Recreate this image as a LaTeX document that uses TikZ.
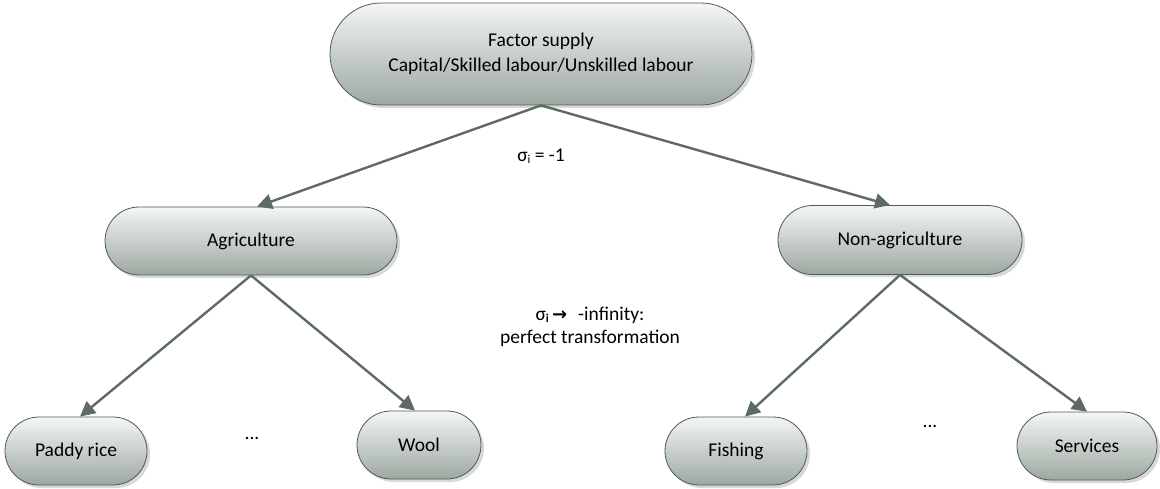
\documentclass[tikz,border=0pt]{standalone}
\usepackage{fontspec}
\setmainfont{Carlito}
\newfontfamily\dvfont{DejaVu Sans}
\usetikzlibrary{shapes.misc,shadows,arrows.meta}
\definecolor{edgecol}{HTML}{5E6B64}
\definecolor{bordercol}{HTML}{4F5A55}
\definecolor{topcol}{HTML}{F4F6F4}
\definecolor{botcol}{HTML}{9DA8A1}
\newcommand{\sigi}{σ\raisebox{-2pt}{\fontsize{12}{12}\selectfont i}}
\newcommand{\sigbi}{σ\raisebox{-2pt}{\fontsize{12}{12}\selectfont\bfseries i}}
\begin{document}
\begin{tikzpicture}[x=1pt,y=-1pt,
  box/.style={rounded rectangle, draw=bordercol, line width=0.8pt,
    top color=topcol, bottom color=botcol,
    drop shadow={shadow xshift=3pt, shadow yshift=-3pt, fill=black!30, opacity=0.5},
    font=\fontsize{19.5}{25}\selectfont, align=center, inner sep=0pt},
  lbl/.style={font=\fontsize{19.5}{23}\selectfont, align=center, inner sep=0pt},
  arr/.style={draw=edgecol, line width=2.4pt, -{Triangle[length=15pt,width=15pt]}}]
\useasboundingbox (0,0) rectangle (1160,489);
\node[box, minimum width=422pt, minimum height=102pt] (top) at (541,54) {Factor supply\\Capital/Skilled labour/Unskilled labour};
\node[box, minimum width=292pt, minimum height=68pt] (agri) at (251,241) {Agriculture};
\node[box, minimum width=244pt, minimum height=69pt] (nonagri) at (900,240) {Non-agriculture};
\node[box, minimum width=142pt, minimum height=68pt] (paddy) at (76,451) {Paddy rice};
\node[box, minimum width=124pt, minimum height=68pt] (wool) at (419,445) {Wool};
\node[box, minimum width=142pt, minimum height=68pt] (fish) at (736,451) {Fishing};
\node[box, minimum width=140pt, minimum height=68pt] (serv) at (1087,446) {Services};
\node[lbl] (s1) at (541,156) {\sigi{} = -1};
\node[lbl] (s2) at (590,327) {\sigbi\,{\dvfont\bfseries\fontsize{18}{18}\selectfont →}\,\, -infinity:\\perfect transformation};
\node[lbl] (d1) at (252,438) {...};
\node[lbl] (d2) at (930,426) {...};
\draw[arr] (top.south) -- ([xshift=6pt]agri.north);
\draw[arr] (top.south) -- ([xshift=-10pt]nonagri.north);
\draw[arr] (agri.south) -- ([xshift=4pt]paddy.north);
\draw[arr] (agri.south) -- ([xshift=-4pt]wool.north);
\draw[arr] (nonagri.south) -- ([xshift=9pt]fish.north);
\draw[arr] (nonagri.south) -- ([xshift=0pt]serv.north);
\end{tikzpicture}
\end{document}
